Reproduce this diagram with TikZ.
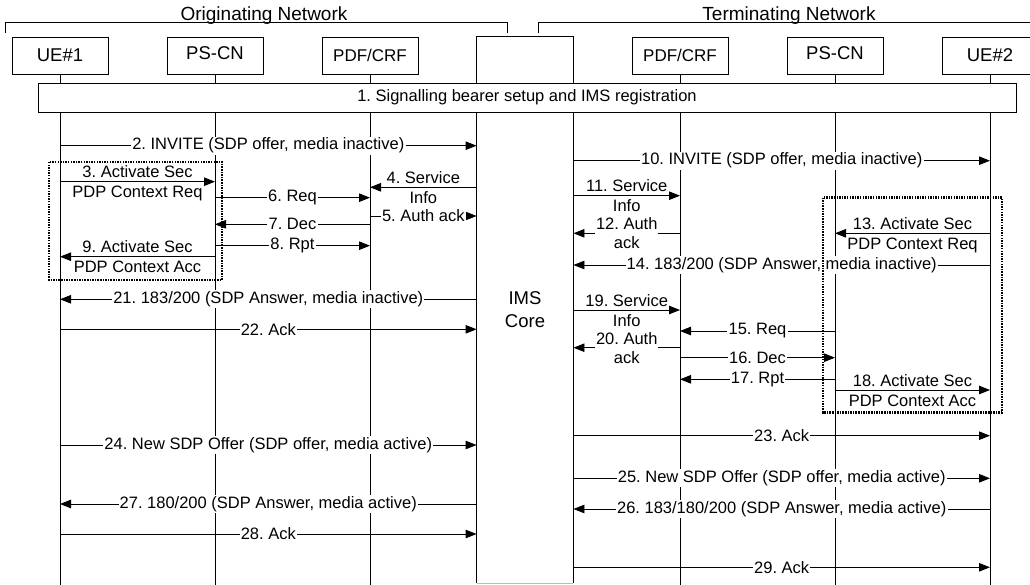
\documentclass[tikz,border=0pt]{standalone}
\usepackage{fontspec}
\setmainfont{Liberation Sans}
\usetikzlibrary{arrows.meta}
\frenchspacing
\newcommand\labfont{\fontsize{16.5}{19}\selectfont}
\newcommand\boxfont{\fontsize{18.5}{23}\selectfont}
\newcommand\hdrfont{\fontsize{19}{22}\selectfont}
% one-line message: from, to, y, label
\newcommand\sqmsg[4]{%
  \coordinate (tmpy) at (0,#3);
  \draw[msgline] (#1 |- tmpy) -- node[lab]{#4} (#2 |- tmpy);}
% two-line message, line between the two text lines
\newcommand\sqmsgtwo[5]{%
  \coordinate (tmpy) at (0,#3);
  \draw[msgline] (#1 |- tmpy) -- node[labup]{#4} node[labdn]{#5} (#2 |- tmpy);}
% two-line message, text block centred on the line
\newcommand\sqmsgblk[4]{%
  \coordinate (tmpy) at (0,#3);
  \draw[msgline] (#1 |- tmpy) -- node[lab2]{#4} (#2 |- tmpy);}
\begin{document}
\begin{tikzpicture}[x=1pt,y=-1pt, line width=0.9pt,
  entity/.style={draw, fill=white, minimum width=96pt, minimum height=37pt, inner sep=0pt, font=\boxfont},
  msgline/.style={-{Triangle[length=11pt,width=8.5pt]}, line width=0.9pt},
  lab/.style={fill=white, inner sep=1.2pt, font=\labfont},
  labup/.style={anchor=base, yshift=4pt, inner sep=0pt, font=\labfont},
  labdn/.style={anchor=base, yshift=-16pt, inner sep=0pt, font=\labfont},
  lab2/.style={fill=white, inner sep=1pt, align=center, font=\labfont},
  grp/.style={line width=2.6pt, dash pattern=on 1.5pt off 1.1pt},
]
\useasboundingbox (0,0) rectangle (1030,585);
\coordinate (bot) at (0,592);

% network brackets
\node[font=\hdrfont, anchor=base, inner sep=0pt] (orig) at (264,20.5) {Originating Network};
\node[font=\hdrfont, anchor=base, inner sep=0pt] (term) at (789,20.5) {Terminating Network};
\draw (5,33) -- (5,22.7) -- (507,22.7) -- (507,33);
\draw (538,33) -- (538,22.7) -- (1040,22.7);

% entities
\node[entity] (ue1)  at (60,55.5)  {UE\#1};
\node[entity] (ps1)  at (215,55.5) {\raisebox{4pt}{PS-CN}};
\node[entity, font=\fontsize{17}{20}\selectfont] (pdf1) at (370,55.5) {PDF/CRF};
\node[entity, font=\fontsize{17}{20}\selectfont] (pdf2) at (680,55.5) {PDF/CRF};
\node[entity] (ps2)  at (835,55.5) {\raisebox{4pt}{PS-CN}};
\node[entity] (ue2)  at (990,55.5) {UE\#2};
\node[minimum width=96pt, minimum height=546pt, inner sep=0pt, align=center, font=\boxfont] (ims) at (525,310) {IMS\\Core};

% lifelines
\foreach \n in {ue1,ps1,pdf1,pdf2,ps2,ue2}
  \draw (\n.south) -- (\n.south |- bot);
\draw (ims.south west) -- (ims.north west) -- (ims.north east) -- (ims.south east);
\draw[gray!55] (ims.south west) -- (ims.south east);

% signalling box
\node[draw, fill=white, minimum width=978pt, minimum height=29pt, inner sep=0pt, font=\labfont] (sig) at (527,97.5)
  {1. Signalling bearer setup and IMS registration};

% originating side
\sqmsg{ue1}{ims.west}{145.7}{2. INVITE (SDP offer, media inactive)}
\sqmsgtwo{ue1}{ps1}{181.7}{3. Activate Sec}{PDP Context Req}
\sqmsgtwo{ims.west}{pdf1}{187.3}{4. Service}{Info}
\sqmsg{ps1}{pdf1}{197.7}{6. Req}
\sqmsg{pdf1}{ims.west}{216}{5. Auth ack}
\sqmsg{pdf1}{ps1}{224.3}{7. Dec}
\sqmsg{ps1}{pdf1}{245.7}{8. Rpt}
\sqmsgtwo{ps1}{ue1}{256.7}{9. Activate Sec}{PDP Context Acc}
\sqmsg{ims.west}{ue1}{299.3}{21. 183/200 (SDP Answer, media inactive)}
\sqmsg{ue1}{ims.west}{329.3}{22. Ack}
\sqmsg{ue1}{ims.west}{445}{24. New SDP Offer (SDP offer, media active)}
\sqmsg{ims.west}{ue1}{504}{27. 180/200 (SDP Answer, media active)}
\sqmsg{ue1}{ims.west}{534}{28. Ack}

% terminating side
\sqmsg{ims.east}{ue2}{160.7}{10. INVITE (SDP offer, media inactive)}
\sqmsgtwo{ims.east}{pdf2}{195.7}{11. Service}{Info}
\sqmsgblk{pdf2}{ims.east}{233.3}{12. Auth\\ack}
\sqmsgtwo{ue2}{ps2}{233.3}{13. Activate Sec}{PDP Context Req}
\sqmsg{ue2}{ims.east}{265}{14. 183/200 (SDP Answer, media inactive)}
\sqmsgtwo{ims.east}{pdf2}{310}{19. Service}{Info}
\sqmsg{ps2}{pdf2}{331}{15. Req}
\sqmsgblk{pdf2}{ims.east}{347.7}{20. Auth\\ack}
\sqmsg{pdf2}{ps2}{357.7}{16. Dec}
\sqmsg{ps2}{pdf2}{379.3}{17. Rpt}
\sqmsgtwo{ps2}{ue2}{390}{18. Activate Sec}{PDP Context Acc}
\sqmsg{ims.east}{ue2}{435.7}{23. Ack}
\sqmsg{ims.east}{ue2}{478.3}{25. New SDP Offer (SDP offer, media active)}
\sqmsg{ue2}{ims.east}{509}{26. 183/180/200 (SDP Answer, media active)}
\sqmsg{ims.east}{ue2}{567.3}{29. Ack}

% dotted groupings
\draw[grp] (49,162) rectangle (222,280);
\draw[grp] (823,197.7) rectangle (1002,412.3);
\end{tikzpicture}
\end{document}
